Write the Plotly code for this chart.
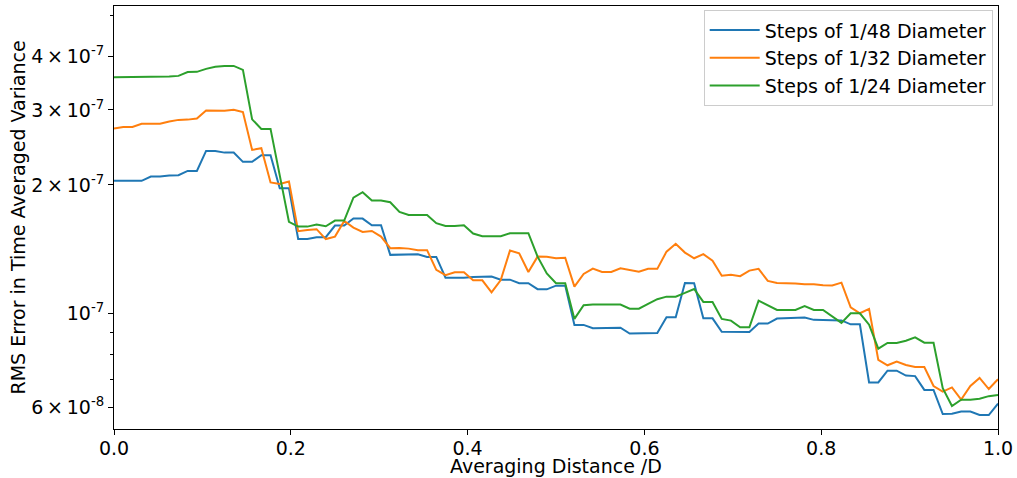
import plotly.graph_objects as go

# Averaging distance index (steps of 1/96 D)
step_index = list(range(97))
x_vals = [k / 96 for k in step_index]

blue_1_48 = [2.045, 2.045, 2.045, 2.045, 2.093, 2.093, 2.104, 2.108, 2.158, 2.158,
             2.404, 2.404, 2.382, 2.382, 2.266, 2.266, 2.349, 2.349, 1.965, 1.965,
             1.494, 1.494, 1.508, 1.508, 1.606, 1.606, 1.668, 1.668, 1.609, 1.609,
             1.371, 1.371, 1.376, 1.376, 1.356, 1.356, 1.212, 1.212, 1.212, 1.217,
             1.219, 1.219, 1.199, 1.199, 1.176, 1.176, 1.139, 1.138, 1.161, 1.161,
             0.939, 0.939, 0.922, 0.922, 0.925, 0.925, 0.896, 0.896, 0.899, 0.899,
             0.979, 0.979, 1.178, 1.176, 0.973, 0.973, 0.905, 0.904, 0.904, 0.904,
             0.946, 0.946, 0.972, 0.973, 0.975, 0.977, 0.965, 0.965, 0.963, 0.962,
             0.942, 0.942, 0.688, 0.688, 0.733, 0.733, 0.714, 0.712, 0.661, 0.661,
             0.580, 0.581, 0.588, 0.588, 0.577, 0.577, 0.614]

orange_1_32 = [2.712, 2.735, 2.735, 2.783, 2.783, 2.783, 2.817, 2.843, 2.847, 2.863,
               2.990, 2.988, 2.988, 3.004, 2.966, 2.417, 2.440, 2.028, 2.011, 2.037,
               1.558, 1.569, 1.575, 1.493, 1.513, 1.647, 1.588, 1.552, 1.560, 1.513,
               1.421, 1.423, 1.418, 1.406, 1.406, 1.264, 1.228, 1.248, 1.248, 1.195,
               1.195, 1.120, 1.197, 1.403, 1.383, 1.250, 1.358, 1.357, 1.346, 1.350,
               1.155, 1.237, 1.273, 1.250, 1.250, 1.275, 1.266, 1.252, 1.271, 1.271,
               1.395, 1.455, 1.388, 1.346, 1.376, 1.329, 1.225, 1.232, 1.222, 1.259,
               1.271, 1.191, 1.178, 1.178, 1.174, 1.170, 1.170, 1.163, 1.162, 1.180,
               1.033, 1.000, 1.024, 0.777, 0.755, 0.770, 0.756, 0.748, 0.748, 0.675,
               0.655, 0.670, 0.627, 0.675, 0.705, 0.664, 0.700]

green_1_24 = [3.581, 3.581, 3.587, 3.587, 3.593, 3.593, 3.593, 3.606, 3.681, 3.685,
              3.745, 3.789, 3.806, 3.806, 3.725, 2.851, 2.708, 2.708, 2.100, 1.638,
              1.597, 1.597, 1.616, 1.600, 1.650, 1.650, 1.868, 1.923, 1.838, 1.838,
              1.822, 1.729, 1.701, 1.701, 1.701, 1.627, 1.603, 1.603, 1.609, 1.538,
              1.516, 1.516, 1.516, 1.541, 1.541, 1.541, 1.358, 1.240, 1.176, 1.176,
              0.970, 1.044, 1.048, 1.048, 1.048, 1.048, 1.025, 1.025, 1.052, 1.079,
              1.094, 1.094, 1.116, 1.140, 1.063, 1.063, 0.970, 0.961, 0.927, 0.927,
              1.071, 1.044, 1.018, 1.018, 1.018, 1.039, 1.018, 1.018, 0.982, 0.949,
              1.000, 1.000, 0.940, 0.826, 0.852, 0.852, 0.862, 0.878, 0.853, 0.853,
              0.667, 0.606, 0.627, 0.627, 0.630, 0.639, 0.643]

scale = 1e-7
series_names = ["Steps of 1/48 Diameter", "Steps of 1/32 Diameter", "Steps of 1/24 Diameter"]
series_vals = [blue_1_48, orange_1_32, green_1_24]
colors = ["#1f77b4", "#ff7f0e", "#2ca02c"]

y_tick_vals = [6e-8, 1e-7, 2e-7, 3e-7, 4e-7]
y_tick_text = ["6\u2009×\u200910<sup>-8</sup>", "10<sup>-7</sup>", "2\u2009×\u200910<sup>-7</sup>",
               "3\u2009×\u200910<sup>-7</sup>", "4\u2009×\u200910<sup>-7</sup>"]
y_minor_vals = [7e-8, 8e-8, 9e-8, 5e-7]
x_tick_vals = [0.0, 0.2, 0.4, 0.6, 0.8, 1.0]
x_tick_text = ["0.0", "0.2", "0.4", "0.6", "0.8", "1.0"]
x_title = "Averaging Distance /D"
y_title = "RMS Error in Time Averaged Variance"

fig = go.Figure()
for name, vals, c in zip(series_names, series_vals, colors):
    fig.add_trace(go.Scatter(x=x_vals, y=[v * scale for v in vals], mode="lines",
                             name=name, line=dict(color=c, width=2)))

font = dict(family="DejaVu Sans", size=19, color="black")
fig.update_layout(
    width=1017, height=478,
    margin=dict(l=114, r=19, t=6, b=49, autoexpand=False),
    paper_bgcolor="white", plot_bgcolor="white",
    font=font,
    showlegend=True,
    legend=dict(x=0.994, y=0.99, xanchor="right", yanchor="top",
                bgcolor="rgba(255,255,255,0.8)", bordercolor="#cccccc", borderwidth=1,
                itemwidth=50,
                font=dict(family="DejaVu Sans", size=19, color="black")),
    xaxis=dict(range=[0, 1], tickvals=x_tick_vals, ticktext=x_tick_text,
               ticks="outside", ticklen=5, tickwidth=1, tickcolor="black",
               ticklabelstandoff=-3,
               showline=True, linecolor="black", linewidth=1, mirror=True,
               showgrid=False, zeroline=False, automargin=False),
    yaxis=dict(type="log", range=[-7.2716, -6.2790],
               tickvals=y_tick_vals, ticktext=y_tick_text,
               ticks="outside", ticklen=5, tickwidth=1, tickcolor="black",
               minor=dict(tickvals=y_minor_vals, ticks="outside", ticklen=3,
                          tickcolor="black", showgrid=False),
               showline=True, linecolor="black", linewidth=1, mirror=True,
               showgrid=False, zeroline=False, automargin=False),
    annotations=[
        dict(text=x_title, xref="paper", yref="paper", x=0.5, y=-37 / 423,
             xanchor="center", yanchor="middle", showarrow=False, font=font),
        dict(text=y_title, xref="paper", yref="paper", x=-97 / 884, y=0.5,
             xanchor="center", yanchor="middle", textangle=-90, showarrow=False, font=font),
    ],
)

fig.write_html("out.html", config={"displayModeBar": False},
               post_script="document.body.style.margin='0';")
